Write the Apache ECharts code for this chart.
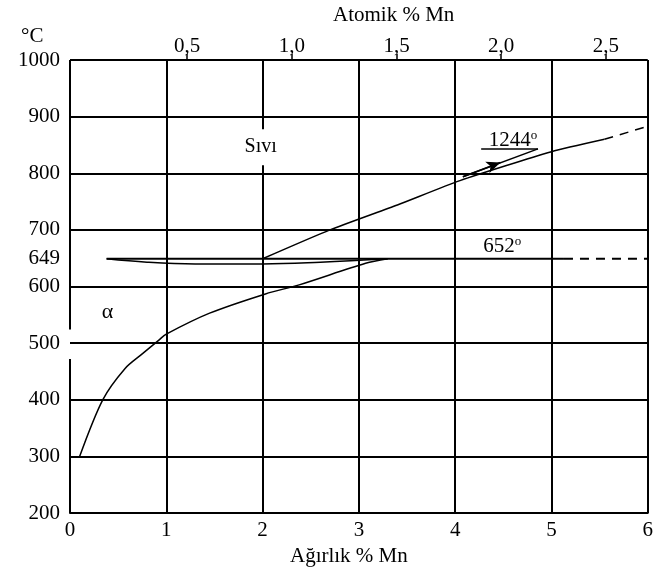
<!DOCTYPE html>
<html>
<head>
<meta charset="utf-8">
<script src="https://cdn.jsdelivr.net/npm/echarts@6/dist/echarts.min.js"></script>
<style>
  html, body { margin: 0; padding: 0; background: #fff; }
  #chart { width: 656px; height: 572px; }
</style>
</head>
<body>
<div id="chart"></div>
<script>
// temperature labels on the left (649 is the eutectic)
const yTicks = [200, 300, 400, 500, 600, 649, 700, 800, 900, 1000]
// atomic % ticks on the top axis
const atomicTicks = [0.5, 1.0, 1.5, 2.0, 2.5]

// curves, [wt % Mn, °C]
const solvus = [[0.1, 300], [0.34, 400], [0.57, 455], [0.75, 481], [0.92, 505], [1.0, 516], [1.45, 553], [2.03, 587], [2.38, 603], [3.07, 641], [3.3, 649]]
const lensLower = [[0.38, 649], [0.8, 643], [1.3, 640], [2.0, 640], [2.6, 643], [3.3, 649]]
const eutectic = [[0.38, 649], [5.13, 649]]
const eutecticDashed = [[5.13, 649], [6, 649]]
const liquidus = [[2.0, 649], [2.7, 700], [3.4, 744], [4.05, 787], [5.0, 838], [5.55, 860]]
const liquidusDashed = [[5.55, 860], [6.0, 883]]
const arrowLine = [[4.08, 794], [4.86, 843]]
const arrowHead = [[4.08, 794], [4.47, 819]]
const underline = [[4.27, 843], [4.86, 843]]
const borderTop = [[0, 1000], [0, 524]]
const borderBottom = [[0, 472], [0, 200]]

const notes = [
  { name: 'Sıvı', value: [1.98, 846] },
  { name: 'α', value: [0.39, 555] },
  { name: '1244', value: [4.6, 858] },
  { name: '652', value: [4.49, 671] }
]

const font = 'Liberation Serif'
const txt = { fontFamily: font, fontSize: 21, color: '#000' }

function plain(data, opts) {
  return Object.assign({
    type: 'line',
    data: data,
    symbol: 'none',
    silent: true,
    lineStyle: { color: '#000', width: 1.5 }
  }, opts || {})
}

const chart = echarts.init(document.getElementById('chart'))

chart.setOption({
  animation: false,
  title: [
    { text: 'Atomik % Mn', left: 333, top: 5, padding: 0, textStyle: Object.assign({ fontWeight: 'normal' }, txt) },
    { text: '°C', left: 21, top: 26, padding: 0, textStyle: Object.assign({ fontWeight: 'normal' }, txt) }
  ],
  grid: { left: 70, right: 5, top: 60, bottom: 53 },
  xAxis: [
    {
      type: 'value',
      min: 0,
      max: 6,
      interval: 1,
      position: 'bottom',
      axisLine: { lineStyle: { color: '#000', width: 2 } },
      axisTick: { show: false },
      axisLabel: Object.assign({ margin: 7 }, txt),
      splitLine: { show: true, showMinLine: false, lineStyle: { color: '#000', width: 2 } },
      name: 'Ağırlık % Mn',
      nameLocation: 'middle',
      nameGap: 21,
      nameTextStyle: Object.assign({ padding: [0, 20, 0, 0] }, txt)
    },
    {
      type: 'value',
      min: -0.06,
      max: 2.70,
      position: 'top',
      axisLine: { show: false },
      axisTick: { show: true, customValues: atomicTicks, length: 6, lineStyle: { color: '#000', width: 1.5 } },
      axisLabel: Object.assign({
        customValues: atomicTicks,
        margin: 3,
        formatter: v => v.toFixed(1).replace('.', ',')
      }, txt),
      splitLine: { show: false }
    }
  ],
  yAxis: {
    type: 'value',
    min: 200,
    max: 1000,
    interval: 100,
    axisLine: { show: false },
    axisTick: { show: false },
    axisLabel: Object.assign({ customValues: yTicks, margin: 10, formatter: v => String(v) }, txt),
    splitLine: { show: true, lineStyle: { color: '#000', width: 2 } }
  },
  series: [
    plain(borderTop, { lineStyle: { color: '#000', width: 2 } }),
    plain(borderBottom, { lineStyle: { color: '#000', width: 2 } }),
    plain(solvus, { smooth: 0.3 }),
    plain(lensLower, { smooth: 0.4 }),
    plain(eutectic, { lineStyle: { color: '#000', width: 2 } }),
    plain(eutecticDashed, { lineStyle: { color: '#000', width: 2, type: [9, 7] } }),
    plain(liquidus, { smooth: 0.2 }),
    plain(liquidusDashed, { lineStyle: { color: '#000', width: 1.5, type: [9, 7] } }),
    plain(arrowLine),
    plain(underline),
    plain([], {
      markLine: {
        silent: true,
        symbol: ['none', 'arrow'],
        symbolSize: [9, 14],
        label: { show: false },
        lineStyle: { color: '#000', width: 1.5, type: 'solid' },
        data: [[{ coord: arrowHead[0] }, { coord: arrowHead[1] }]]
      }
    }),
    {
      type: 'scatter',
      data: notes,
      symbolSize: 0,
      silent: true,
      itemStyle: { opacity: 1, color: '#000' },
      label: {
        show: true,
        position: 'inside',
        formatter: p => p.name === 'Sıvı' ? '{bg|Sıvı}' : (p.name === 'α' ? '{a|α}' : '{n|' + p.name + '}{sup|o}'),
        fontFamily: font,
        fontSize: 21,
        color: '#000',
        opacity: 1,
        rich: {
          n: { fontFamily: font, fontSize: 21, color: '#000' },
          bg: { fontFamily: font, fontSize: 20, color: '#000', backgroundColor: '#fff', padding: [8, 2] },
          a: { fontFamily: font, fontSize: 22, color: '#000' },
          sup: { fontFamily: font, fontSize: 13, color: '#000', padding: [0, 0, 10, 0] }
        }
      }
    }
  ]
})
</script>
</body>
</html>
